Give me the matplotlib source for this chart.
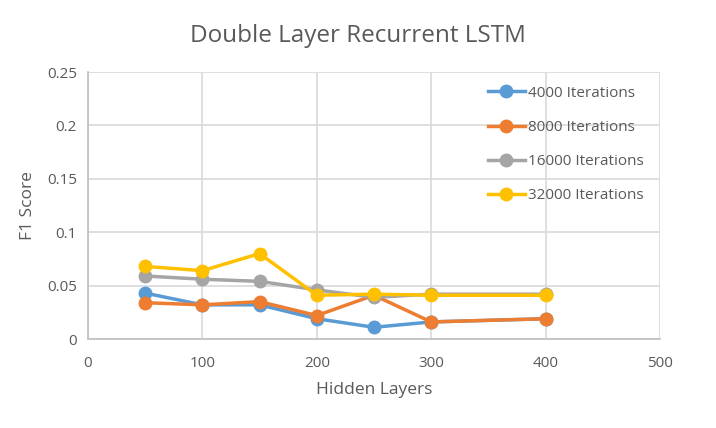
import matplotlib.pyplot as plt

hidden_layers = [50, 100, 150, 200, 250, 300, 400]
f1_4000 = [0.043, 0.032, 0.032, 0.019, 0.011, 0.016, 0.019]
f1_8000 = [0.034, 0.032, 0.035, 0.022, 0.041, 0.016, 0.019]
f1_16000 = [0.059, 0.056, 0.054, 0.046, 0.039, 0.042, 0.042]
f1_32000 = [0.068, 0.064, 0.080, 0.041, 0.042, 0.041, 0.041]

series = [
    ("4000 Iterations", f1_4000, "#5B9BD5"),
    ("8000 Iterations", f1_8000, "#ED7D31"),
    ("16000 Iterations", f1_16000, "#A5A5A5"),
    ("32000 Iterations", f1_32000, "#FFC000"),
]

plt.rcParams['font.family'] = ['Open Sans', 'DejaVu Sans']
text_color = '#595959'

fig = plt.figure(figsize=(7.16, 4.28), dpi=100)
ax = fig.add_axes([0.1229, 0.2079, 0.7989, 0.6238])

for label, values, color in series:
    ax.plot(hidden_layers, values, color=color, lw=2.5, marker='o',
            markersize=9, label=label)

ax.set_xlim(0, 500)
ax.set_ylim(0, 0.25)
ax.set_xticks([0, 100, 200, 300, 400, 500])
ax.set_yticks([0, 0.05, 0.1, 0.15, 0.2, 0.25])
ax.set_yticklabels(['0', '0.05', '0.1', '0.15', '0.2', '0.25'])
ax.grid(True, color='#d9d9d9', lw=1.2)
ax.set_axisbelow(True)
for side in ['top', 'right']:
    ax.spines[side].set_visible(False)
for side in ['left', 'bottom']:
    ax.spines[side].set_color('#bfbfbf')
    ax.spines[side].set_linewidth(1.2)
ax.tick_params(length=0, labelsize=11, colors=text_color, pad=8)
ax.tick_params(axis='x', pad=12)

ax.set_xlabel("Hidden Layers", fontsize=12.5, color=text_color, labelpad=8)
ax.set_ylabel("F1 Score", fontsize=12.5, color=text_color, labelpad=8)
fig.suptitle("Double Layer Recurrent LSTM", fontsize=17.5, color=text_color,
             y=0.945)

ax.legend(loc='upper right', frameon=False, fontsize=11, labelcolor=text_color,
          handlelength=2.4, labelspacing=1.25, bbox_to_anchor=(0.995, 1.0),
          handletextpad=0.2)

fig.savefig('out.png', dpi=100)
